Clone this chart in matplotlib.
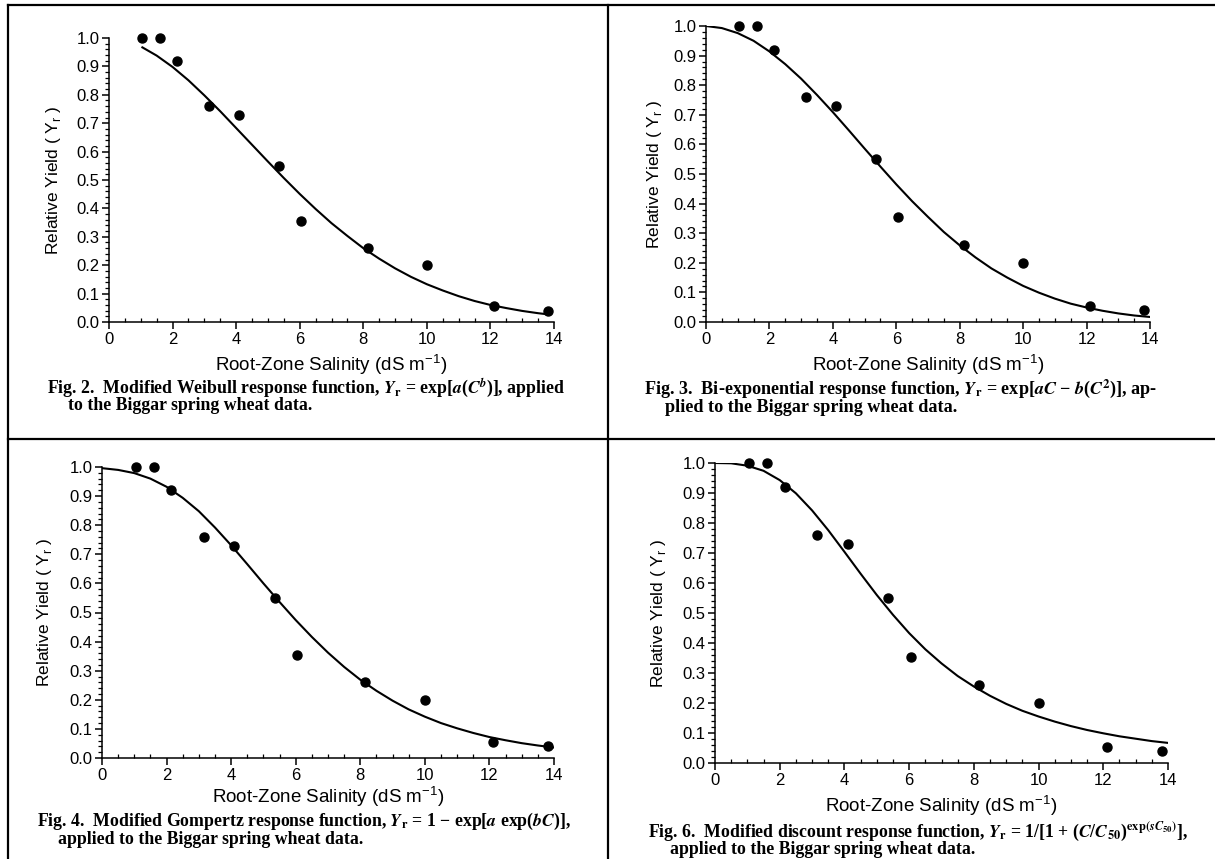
import matplotlib
matplotlib.use('Agg')
import matplotlib.pyplot as plt
from matplotlib.lines import Line2D
from matplotlib.ticker import MultipleLocator, FormatStrFormatter

plt.rcParams['font.family'] = ['Liberation Sans', 'DejaVu Sans']
plt.rcParams['mathtext.fontset'] = 'custom'
plt.rcParams['mathtext.rm'] = 'Liberation Sans'

# Biggar spring wheat data (same points in every panel)
salinity = [1.05, 1.6, 2.15, 3.15, 4.1, 5.35, 6.05, 8.15, 10.0, 12.1, 13.8]
rel_yield = [1.0, 1.0, 0.92, 0.76, 0.73, 0.55, 0.355, 0.26, 0.20, 0.055, 0.04]

# fitted curves
weibull_x = [1.05, 1.5, 2, 2.5, 3, 3.5, 4, 4.5, 5, 5.5, 6, 6.5, 7, 7.5, 8,
             8.5, 9, 9.5, 10, 10.5, 11, 11.5, 12, 12.5, 13, 13.5, 13.8]
weibull_y = [0.967, 0.938, 0.898, 0.851, 0.798, 0.742, 0.683, 0.624, 0.565,
             0.507, 0.451, 0.398, 0.348, 0.303, 0.260, 0.223, 0.189, 0.159,
             0.133, 0.111, 0.091, 0.074, 0.060, 0.049, 0.039, 0.031, 0.027]

curve_x = [0, 0.5, 1, 1.5, 2, 2.5, 3, 3.5, 4, 4.5, 5, 5.5, 6, 6.5, 7, 7.5,
           8, 8.5, 9, 9.5, 10, 10.5, 11, 11.5, 12, 12.5, 13, 13.5, 14]
biexp_y = [1.0, 0.993, 0.976, 0.950, 0.914, 0.871, 0.822, 0.767, 0.709,
           0.648, 0.586, 0.525, 0.465, 0.408, 0.355, 0.304, 0.259, 0.218,
           0.181, 0.150, 0.122, 0.099, 0.079, 0.062, 0.049, 0.038, 0.029,
           0.022, 0.017]
gompertz_y = [0.996, 0.990, 0.979, 0.960, 0.932, 0.894, 0.848, 0.792, 0.731,
              0.666, 0.600, 0.536, 0.474, 0.416, 0.362, 0.313, 0.269, 0.231,
              0.197, 0.167, 0.142, 0.120, 0.102, 0.086, 0.072, 0.061, 0.051,
              0.043, 0.036]
discount_y = [1.0, 0.999, 0.991, 0.974, 0.943, 0.899, 0.842, 0.776, 0.704,
              0.631, 0.560, 0.494, 0.433, 0.379, 0.332, 0.290, 0.255, 0.224,
              0.197, 0.174, 0.155, 0.138, 0.123, 0.110, 0.099, 0.089, 0.081,
              0.073, 0.067]

captions = [
    (r"Fig. 2.  Modified Weibull response function, $\mathbfit{Y}_{\mathbf{r}}$ = exp[$\mathbfit{a}$($\mathbfit{C}^{\mathbfit{b}}$)], applied",
     "to the Biggar spring wheat data."),
    (r"Fig. 3.  Bi-exponential response function, $\mathbfit{Y}_{\mathbf{r}}$ = exp[$\mathbfit{aC}$ − $\mathbfit{b}$($\mathbfit{C}^{\mathbf{2}}$)], ap-",
     "plied to the Biggar spring wheat data."),
    (r"Fig. 4.  Modified Gompertz response function, $\mathbfit{Y}_{\mathbf{r}}$ = 1 − exp[$\mathbfit{a}$ exp($\mathbfit{bC}$)],",
     "applied to the Biggar spring wheat data."),
    (r"Fig. 6.  Modified discount response function, $\mathbfit{Y}_{\mathbf{r}}$ = 1/[1 + ($\mathbfit{C}$/$\mathbfit{C}_{\mathbf{50}}$)$^{\mathbf{exp(}\mathbfit{sC}_{\mathbf{50}}\mathbf{)}}$],",
     "applied to the Biggar spring wheat data."),
]

W, H = 1215, 859
fig = plt.figure(figsize=(W / 100, H / 100), dpi=100)

# pixel layout: axes box (left, right, top, bottom), ylabel x, xlabel y,
# caption line starts and caption width
panels = [
    dict(box=(109, 554, 38, 322), ylab=54, xlab=365,
         cap=((47, 388), (68, 406)), capw=517, cx=weibull_x, cy=weibull_y),
    dict(box=(706, 1150, 26, 322), ylab=655, xlab=365,
         cap=((644, 389), (665, 407)), capw=513, cx=curve_x, cy=biexp_y),
    dict(box=(102, 554, 467, 758), ylab=45, xlab=797,
         cap=((37, 821), (58, 839)), capw=534, cx=curve_x, cy=gompertz_y),
    dict(box=(715, 1168, 463, 763), ylab=658, xlab=806,
         cap=((648, 831), (670, 849)), capw=538, cx=curve_x, cy=discount_y),
]

cap_texts = []
for p, (line1, line2) in zip(panels, captions):
    l, r, t, b = p['box']
    ax = fig.add_axes([l / W, 1 - b / H, (r - l) / W, (b - t) / H])
    ax.plot(p['cx'], p['cy'], color='black', lw=1.5)
    ax.plot(salinity, rel_yield, 'o', color='black', ms=6.5, clip_on=False)
    ax.set_xlim(0, 14)
    ax.set_ylim(0, 1.0)
    for s in ['top', 'right']:
        ax.spines[s].set_visible(False)
    for s in ['left', 'bottom']:
        ax.spines[s].set_linewidth(1.1)
    ax.xaxis.set_major_locator(MultipleLocator(2))
    ax.xaxis.set_minor_locator(MultipleLocator(0.5))
    ax.yaxis.set_major_locator(MultipleLocator(0.1))
    ax.yaxis.set_minor_locator(MultipleLocator(0.02))
    ax.yaxis.set_major_formatter(FormatStrFormatter('%.1f'))
    ax.tick_params(which='major', direction='out', length=5, width=1.1,
                   labelsize=12, pad=2)
    ax.tick_params(axis='y', which='minor', direction='out', length=3, width=0.9)
    ax.tick_params(axis='x', which='minor', direction='in', length=3, width=0.9)

    # axis titles placed in pixels
    ax.text((p['ylab'] - l) / (r - l), 0.5, r"Relative Yield ( Y$_{\mathregular{r}}$ )",
            rotation=90, ha='center', va='center', fontsize=12.5,
            transform=ax.transAxes)
    ax.text(0.5, (b - p['xlab']) / (b - t), r"Root-Zone Salinity (dS m$^{\mathregular{-1}}$)",
            ha='center', va='center', fontsize=13.5, transform=ax.transAxes)

    (x1, y1), (x2, y2) = p['cap']
    t1 = fig.text(x1 / W, 1 - y1 / H, line1, ha='left', va='center',
                  family='Liberation Serif', weight='bold', fontsize=11,
                  math_fontfamily='stix')
    t2 = fig.text(x2 / W, 1 - y2 / H, line2, ha='left', va='center',
                  family='Liberation Serif', weight='bold', fontsize=11,
                  math_fontfamily='stix')
    cap_texts.append((t1, t2, p['capw']))

# scale caption font so the first line spans the measured width
fig.canvas.draw()
rend = fig.canvas.get_renderer()
for t1, t2, target in cap_texts:
    w = t1.get_window_extent(rend).width
    fs = t1.get_fontsize() * target / w
    t1.set_fontsize(fs)
    t2.set_fontsize(fs)

# panel frame lines
def hline(y, x0, x1):
    fig.add_artist(Line2D([x0 / W, x1 / W], [1 - y / H, 1 - y / H],
                          transform=fig.transFigure, color='black', lw=1.6))

def vline(x, y0, y1):
    fig.add_artist(Line2D([x / W, x / W], [1 - y0 / H, 1 - y1 / H],
                          transform=fig.transFigure, color='black', lw=1.6))

hline(5, 8, W)
hline(439, 8, W)
vline(8, 5, H)
vline(608, 5, H)

fig.savefig('out.png', dpi=100)
